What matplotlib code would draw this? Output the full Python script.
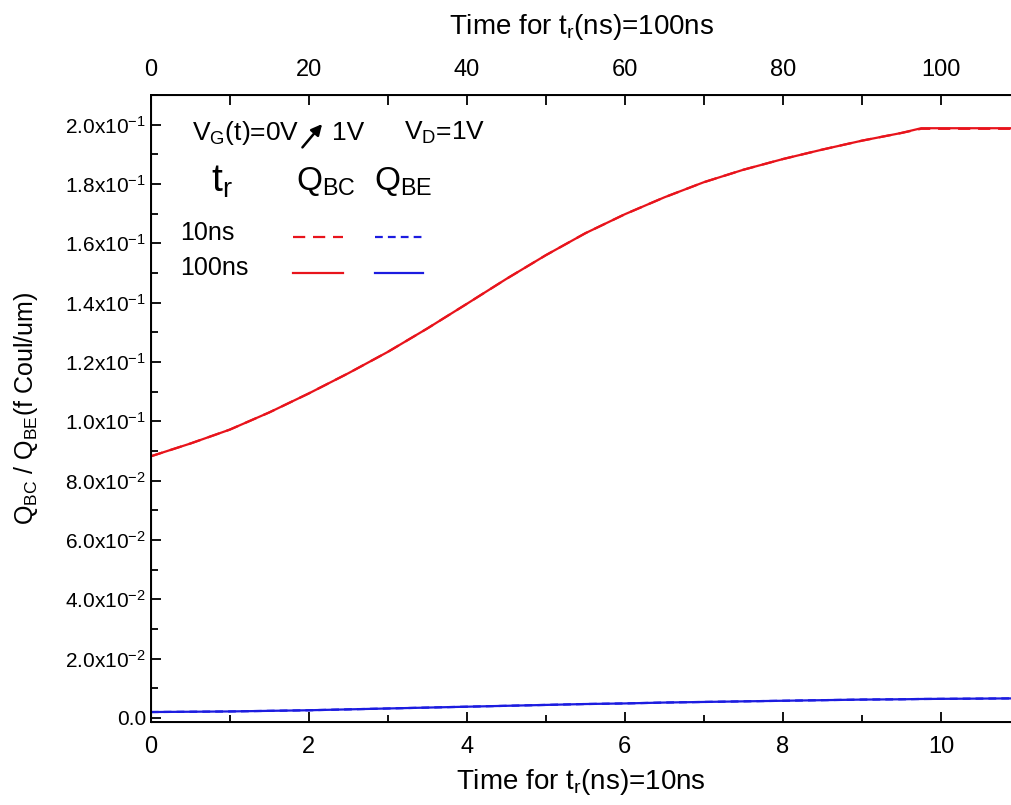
import numpy as np
import matplotlib.pyplot as plt
from matplotlib.lines import Line2D
from matplotlib.ticker import MultipleLocator, FuncFormatter

plt.rcParams['font.family'] = ['Liberation Sans', 'DejaVu Sans']
plt.rcParams['mathtext.default'] = 'regular'

# time axis (ns) for t_r = 10ns
time_ns = [0, 0.5, 1, 1.5, 2, 2.5, 3, 3.5, 4, 4.5, 5, 5.5, 6, 6.5, 7, 7.5, 8, 8.5, 9, 9.5, 9.75, 10.9]
# Q_BC (f Coul/um), t_r = 100ns (solid) and 10ns (dashed)
qbc_100 = [0.0882, 0.0925, 0.0972, 0.1030, 0.1094, 0.1162, 0.1234, 0.1313, 0.1396, 0.1480, 0.1560, 0.1634, 0.1698,
           0.1755, 0.1806, 0.1848, 0.1884, 0.1916, 0.1946, 0.1972, 0.1988, 0.1988]
qbc_10 = [0.0882, 0.0925, 0.0972, 0.1030, 0.1094, 0.1162, 0.1234, 0.1313, 0.1396, 0.1480, 0.1560, 0.1634, 0.1698,
          0.1755, 0.1806, 0.1848, 0.1884, 0.1916, 0.1946, 0.1972, 0.1986, 0.1986]
# Q_BE (f Coul/um)
qbe_100 = [0.0020, 0.0021, 0.0022, 0.0024, 0.0026, 0.0029, 0.0032, 0.0035, 0.0038, 0.0041, 0.0044, 0.0047, 0.0049,
           0.0052, 0.0054, 0.0056, 0.0058, 0.0060, 0.0062, 0.0063, 0.0064, 0.0066]
qbe_10 = [0.0020, 0.0021, 0.0022, 0.0024, 0.0026, 0.0029, 0.0032, 0.0035, 0.0038, 0.0041, 0.0044, 0.0047, 0.0049,
          0.0052, 0.0054, 0.0056, 0.0058, 0.0060, 0.0062, 0.0063, 0.0064, 0.0066]

RED = '#e8141c'
BLUE = '#1c1ce0'
red_dash = (0, (5.5, 3.5))
blue_dash = (0, (3.5, 2.3))

fig = plt.figure(figsize=(10.12, 8.05), dpi=100)
ax = fig.add_axes([0.149, 0.1035, 0.851, 0.7785])

ax.plot(time_ns, qbc_100, color=RED, lw=1.6)
ax.plot(time_ns, qbc_10, color=RED, lw=1.6, ls=red_dash)
ax.plot(time_ns, qbe_100, color=BLUE, lw=1.6)
ax.plot(time_ns, qbe_10, color=BLUE, lw=1.6, ls=blue_dash)

ax.set_xlim(0, 10.9)
ax.set_ylim(-0.00125, 0.210)
ax.xaxis.set_major_locator(MultipleLocator(2))
ax.xaxis.set_minor_locator(MultipleLocator(1))
ax.yaxis.set_major_locator(MultipleLocator(0.02))
ax.yaxis.set_minor_locator(MultipleLocator(0.01))


def sci(v, pos):
    if abs(v) < 1e-9:
        return '0.0'
    e = int(np.floor(np.log10(abs(v)) + 1e-9))
    m = v / 10 ** e
    return '%.1fx10$^{%d}$' % (m, e)


ax.yaxis.set_major_formatter(FuncFormatter(sci))
ax.tick_params(which='both', direction='in', width=1.3, labelsize=15)
ax.tick_params(which='major', length=7.5)
ax.tick_params(which='minor', length=5)
ax.tick_params(axis='x', pad=10, labelsize=17)
for s in ax.spines.values():
    s.set_linewidth(1.4)

ax.set_xlabel('Time for t$_r$(ns)=10ns', fontsize=20, labelpad=7)
ax.set_ylabel('Q$_{BC}$ / Q$_{BE}$(f Coul/um)', fontsize=18, labelpad=18)

top = ax.twiny()
top.set_xlim(0, 109)
top.xaxis.set_major_locator(MultipleLocator(20))
top.xaxis.set_minor_locator(MultipleLocator(10))
top.tick_params(which='both', direction='in', width=1.3, length=7.5, labelsize=17, pad=10)
top.set_xlabel('Time for t$_r$(ns)=100ns', fontsize=20, labelpad=18)

# annotation block
tr = ax.transAxes
ax.text(0.048, 0.939, 'V$_G$(t)=0V', transform=tr, fontsize=19, va='center')
ax.annotate('', xy=(0.201, 0.957), xytext=(0.174, 0.913), xycoords=tr,
            arrowprops=dict(arrowstyle='-|>', color='black', lw=1.8, mutation_scale=16))
ax.text(0.210, 0.939, '1V', transform=tr, fontsize=19, va='center')
ax.text(0.294, 0.939, 'V$_D$=1V', transform=tr, fontsize=19, va='center')
ax.text(0.070, 0.862, 't$_r$', transform=tr, fontsize=28, va='center')
ax.text(0.169, 0.862, 'Q$_{BC}$', transform=tr, fontsize=24, va='center')
ax.text(0.259, 0.862, 'Q$_{BE}$', transform=tr, fontsize=24, va='center')
ax.text(0.034, 0.779, '10ns', transform=tr, fontsize=18, va='center')
ax.text(0.034, 0.724, '100ns', transform=tr, fontsize=18, va='center')
for y, ls_r, ls_b in [(0.773, red_dash, blue_dash), (0.716, '-', '-')]:
    ax.add_line(Line2D([0.165, 0.223], [y, y], transform=tr, color=RED, lw=1.6, ls=ls_r))
    ax.add_line(Line2D([0.260, 0.316], [y, y], transform=tr, color=BLUE, lw=1.6, ls=ls_b))

fig.savefig('out.png', dpi=100)
